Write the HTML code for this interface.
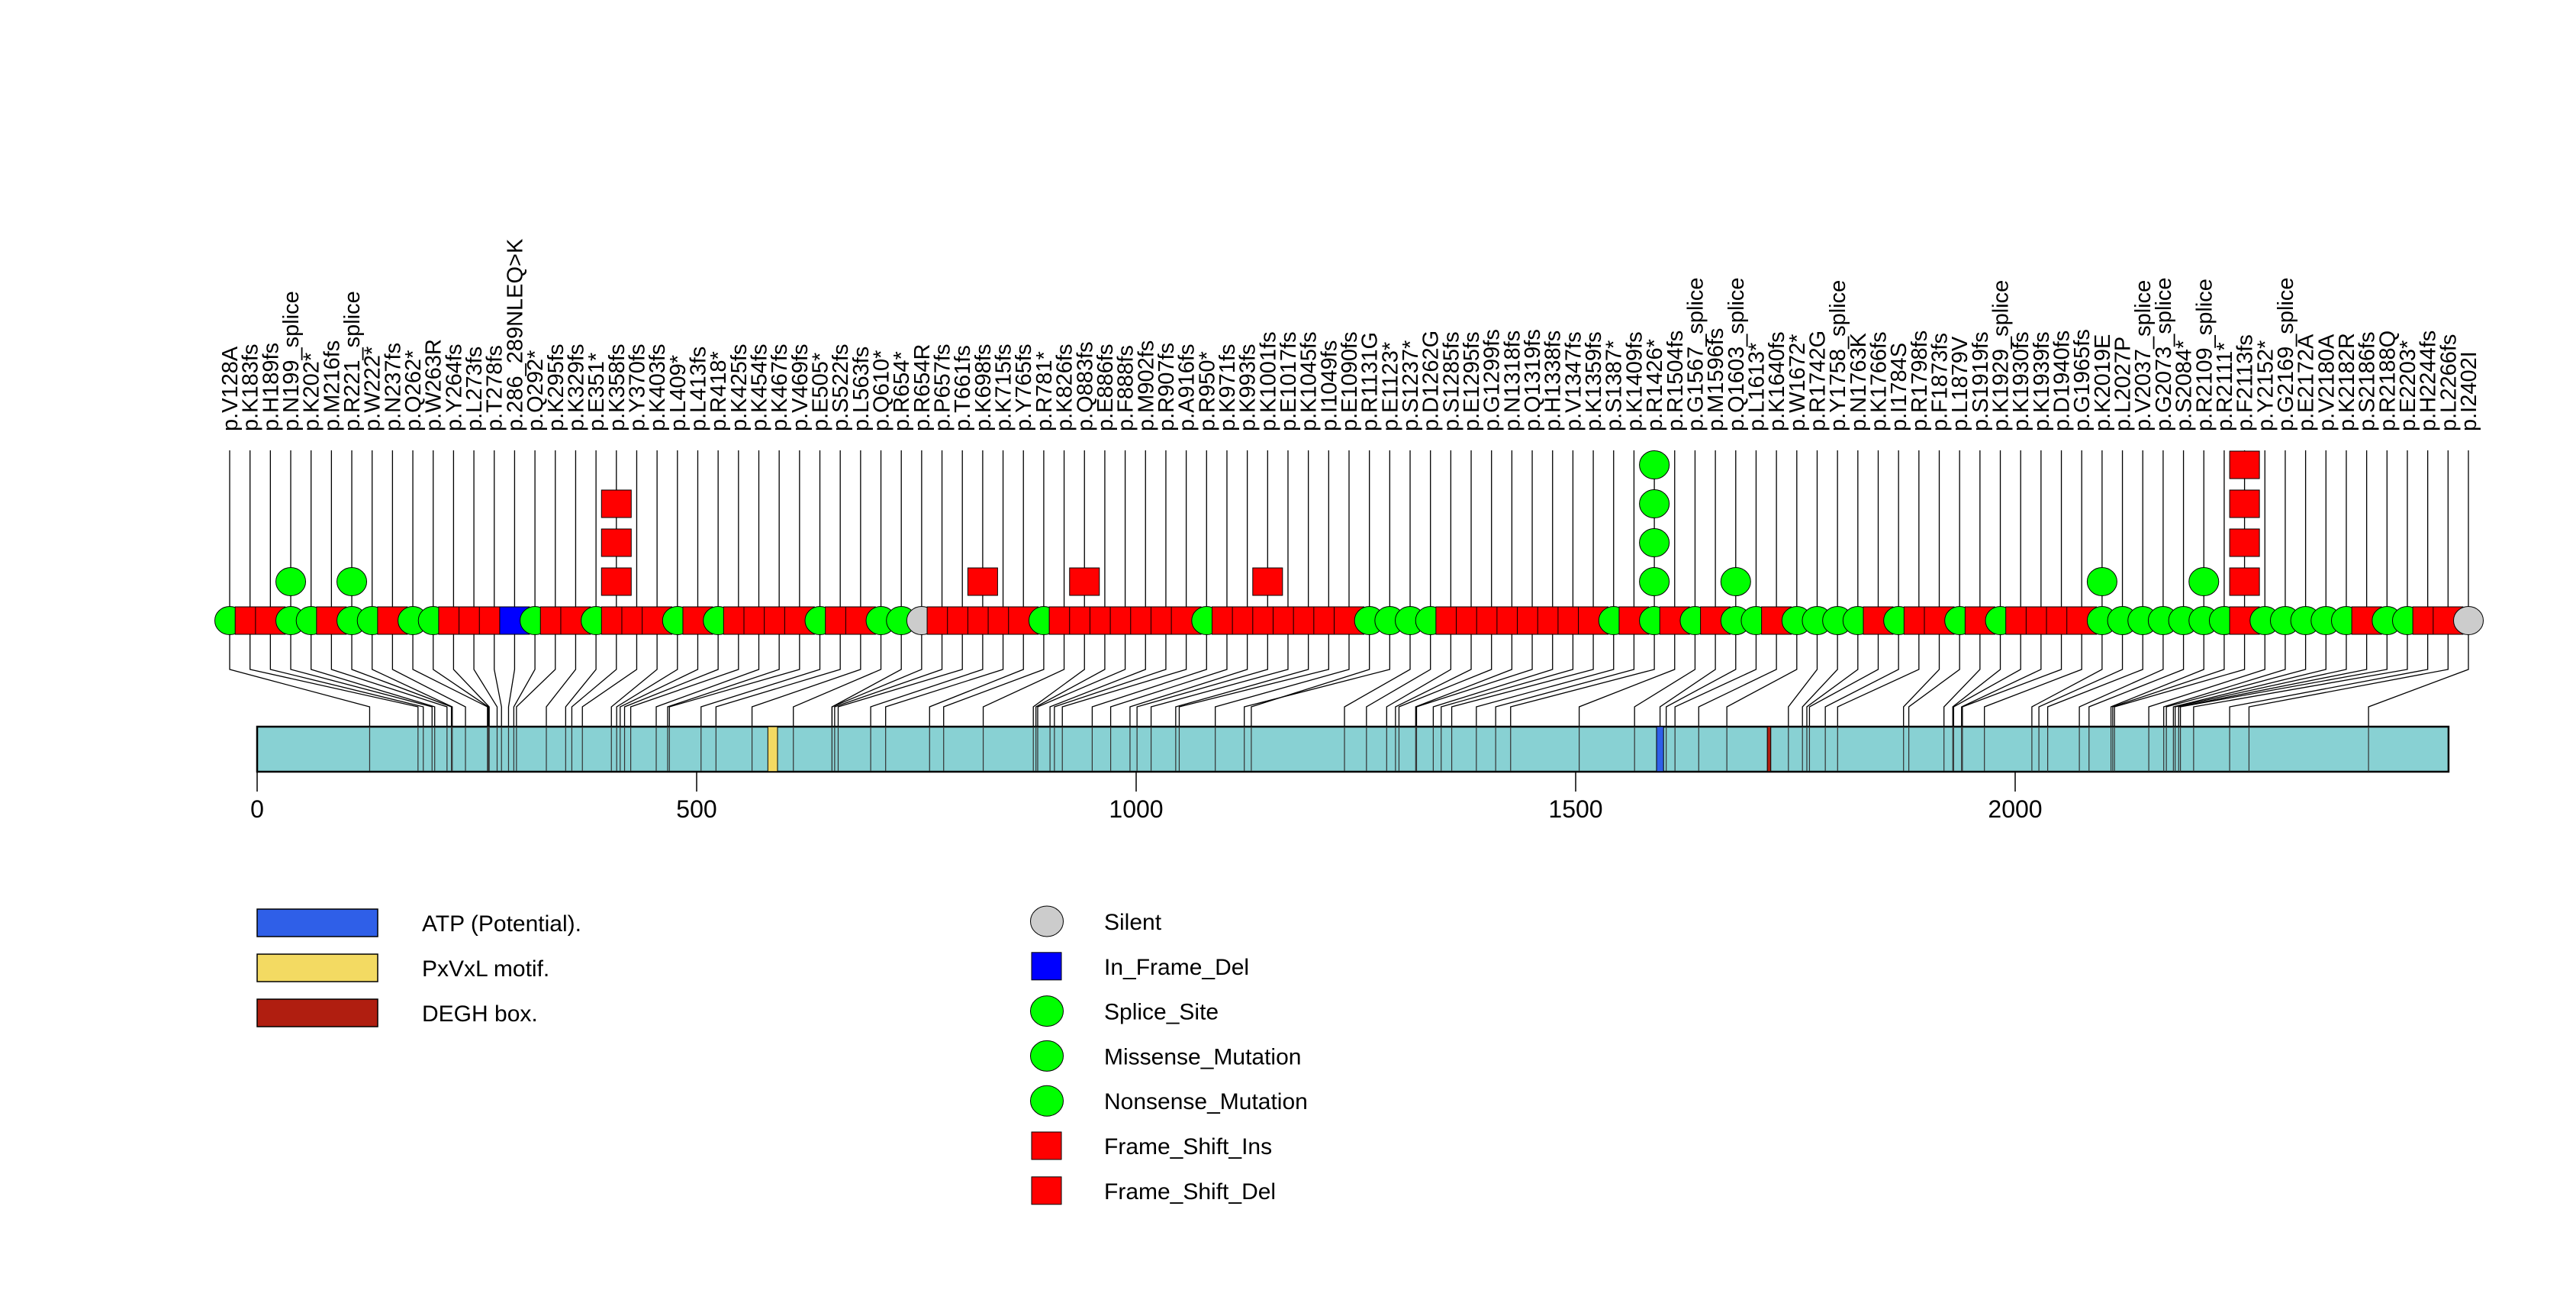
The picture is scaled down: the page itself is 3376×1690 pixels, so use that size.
<!DOCTYPE html>
<html><head><meta charset="utf-8"><style>
html,body{margin:0;padding:0;background:#fff;}
svg{display:block;font-family:"Liberation Sans",sans-serif;}
</style></head><body>
<svg id="chart" width="3376" height="1690" viewBox="0 0 3376 1690" xmlns="http://www.w3.org/2000/svg">
<rect x="0" y="0" width="3376" height="1690" fill="#fff"/>
<g id="gLines"></g>
<g id="gBar"></g>
<g id="gMarks"></g>
<g id="gLabels"></g>
<g id="gAxis"></g>
<g id="gLegend"></g>
</svg>
<script>
const labels = ["p.V128A","p.K183fs","p.H189fs","p.N199_splice","p.K202*","p.M216fs","p.R221_splice","p.W222*","p.N237fs","p.Q262*","p.W263R","p.Y264fs","p.L273fs","p.T278fs","p.286_289NLEQ>K","p.Q292*","p.K295fs","p.K329fs","p.E351*","p.K358fs","p.Y370fs","p.K403fs","p.L409*","p.L413fs","p.R418*","p.K425fs","p.K454fs","p.K467fs","p.V469fs","p.E505*","p.S522fs","p.L563fs","p.Q610*","p.R654*","p.R654R","p.P657fs","p.T661fs","p.K698fs","p.K715fs","p.Y765fs","p.R781*","p.K826fs","p.Q883fs","p.E886fs","p.F888fs","p.M902fs","p.R907fs","p.A916fs","p.R950*","p.K971fs","p.K993fs","p.K1001fs","p.E1017fs","p.K1045fs","p.I1049fs","p.E1090fs","p.R1131G","p.E1123*","p.S1237*","p.D1262G","p.S1285fs","p.E1295fs","p.G1299fs","p.N1318fs","p.Q1319fs","p.H1338fs","p.V1347fs","p.K1359fs","p.S1387*","p.K1409fs","p.R1426*","p.R1504fs","p.G1567_splice","p.M1596fs","p.Q1603_splice","p.L1613*","p.K1640fs","p.W1672*","p.R1742G","p.Y1758_splice","p.N1763K","p.K1766fs","p.I1784S","p.R1798fs","p.F1873fs","p.L1879V","p.S1919fs","p.K1929_splice","p.K1930fs","p.K1939fs","p.D1940fs","p.G1965fs","p.K2019E","p.L2027P","p.V2037_splice","p.G2073_splice","p.S2084*","p.R2109_splice","p.R2111*","p.F2113fs","p.Y2152*","p.G2169_splice","p.E2172A","p.V2180A","p.K2182R","p.S2186fs","p.R2188Q","p.E2203*","p.H2244fs","p.L2266fs","p.I2402I"];
const positions = [128,183,189,199,202,216,221,222,237,262,263,264,273,278,286,292,295,329,351,358,370,403,409,413,418,425,454,467,469,505,522,563,610,654,654,657,661,698,715,765,781,826,883,886,888,902,907,916,950,971,993,1001,1017,1045,1049,1090,1131,1123,1237,1262,1285,1295,1299,1318,1319,1338,1347,1359,1387,1409,1426,1504,1567,1596,1603,1613,1640,1672,1742,1758,1763,1766,1784,1798,1873,1879,1919,1929,1930,1939,1940,1965,2019,2027,2037,2073,2084,2109,2111,2113,2152,2169,2172,2180,2182,2186,2188,2203,2244,2266,2402];
const counts = {"p.N199_splice":2,"p.R221_splice":2,"p.K358fs":4,"p.K698fs":2,"p.Q883fs":2,"p.K1001fs":2,"p.R1426*":5,"p.Q1603_splice":2,"p.K2019E":2,"p.R2109_splice":2,"p.F2113fs":5};
const axisTicks = [0,500,1000,1500,2000];
const proteinLength = 2493;
const domainNames = ["ATP (Potential).","PxVxL motif.","DEGH box."];
const domainStart = [1592,581,1718];
const domainEnd = [1600,592,1722];
const domainColors = ["#2f5fe8","#f3da62","#b01e10"];

const NS="http://www.w3.org/2000/svg";
function mk(tag,attrs,parent){const e=document.createElementNS(NS,tag);for(const k in attrs)e.setAttribute(k,attrs[k]);parent.appendChild(e);return e;}
const X0=337, SC=1.152;
function xAA(a){return X0+a*SC;}
const N=labels.length, C0=301, C1=3235;
function xCol(i){return C0+i*(C1-C0)/(N-1);}
function rowY(r){return 813-r*51;}
function mtype(l){if(l==="p.R654R"||l==="p.I2402I")return "sil";if(l.indexOf(">")>=0)return "del";if(/fs$/.test(l))return "fs";return "green";}
const gL=document.getElementById('gLines'),gB=document.getElementById('gBar'),gM=document.getElementById('gMarks'),gT=document.getElementById('gLabels'),gA=document.getElementById('gAxis'),gG=document.getElementById('gLegend');

const bar=mk('rect',{x:xAA(0),y:952,width:proteinLength*SC,height:59,fill:'#88d1d3',stroke:'#000','stroke-width':2.5},gB);


for(let i=0;i<N;i++){
  const l=mk('line',{x1:xAA(positions[i]),x2:xAA(positions[i]),y1:952,y2:1011,stroke:'#333','stroke-width':1.2},gB);
  
  
}
for(let d=0;d<domainNames.length;d++){
  const r=mk('rect',{x:xAA(domainStart[d]),y:952,width:Math.max(4,(domainEnd[d]-domainStart[d])*SC),height:59,fill:domainColors[d],stroke:'#000','stroke-width':1},gB);
  
  
}
for(let i=0;i<N;i++){
  const xc=xCol(i), xp=xAA(positions[i]);
  const p=mk('polyline',{points:`${xc},590 ${xc},877 ${xp},926 ${xp},952`,fill:'none',stroke:'#000','stroke-width':1.3},gL);
  
  
}
for(let i=0;i<N;i++){
  const xc=xCol(i), t=mtype(labels[i]);
  const cnt=counts[labels[i]]||1;
  for(let r=0;r<cnt;r++){
    const y=rowY(r);let m;
    if(t==="fs"||t==="del"){
      m=mk('rect',{x:xc-19.5,y:y-18,width:39,height:36,fill:t==="fs"?'#ff0000':'#0000ff',stroke:'#000','stroke-width':1},gM);
    }else{
      m=mk('ellipse',{cx:xc,cy:y,rx:19.5,ry:18.5,fill:t==="sil"?'#cccccc':'#00ff00',stroke:'#000','stroke-width':1},gM);
    }
    
    
  }
  const tx=mk('text',{x:0,y:0,'font-size':29,transform:`translate(${xc+10},565) rotate(-90)`},gT);
  tx.textContent=labels[i];
  
  
}
const al=mk('line',{x1:xAA(0),x2:xAA(2000),y1:1011,y2:1011,stroke:'#000','stroke-width':1.5},gA);


for(const v of axisTicks){
  const t=mk('line',{x1:xAA(v),x2:xAA(v),y1:1011,y2:1037,stroke:'#000','stroke-width':1.5},gA);
  
  
  const tl=mk('text',{x:xAA(v),y:1071,'font-size':32,'text-anchor':'middle'},gA);
  tl.textContent=v;
  
  
}
for(let d=0;d<domainNames.length;d++){
  const y=1191+d*59;
  const r=mk('rect',{x:337,y:y,width:158,height:36,fill:domainColors[d],stroke:'#000','stroke-width':1.5},gG);
  
  
  const t=mk('text',{x:553,y:y+29,'font-size':30},gG);
  t.textContent=domainNames[d];
  
  
}
const legTypes=["Silent","In_Frame_Del","Splice_Site","Missense_Mutation","Nonsense_Mutation","Frame_Shift_Ins","Frame_Shift_Del"];
const legShape=["c","s","c","c","c","s","s"];
const legCol=["#cccccc","#0000ff","#00ff00","#00ff00","#00ff00","#ff0000","#ff0000"];
for(let k=0;k<legTypes.length;k++){
  const y=1207+k*58.8;let s;
  if(legShape[k]==="c") s=mk('ellipse',{cx:1372,cy:y,rx:21.5,ry:20,fill:legCol[k],stroke:'#000','stroke-width':1},gG);
  else s=mk('rect',{x:1352,y:y-18,width:39,height:36,fill:legCol[k],stroke:'#000','stroke-width':1},gG);
  
  
  const t=mk('text',{x:1447,y:y+11,'font-size':30},gG);
  t.textContent=legTypes[k];
  
  
}
</script>
</body></html>
